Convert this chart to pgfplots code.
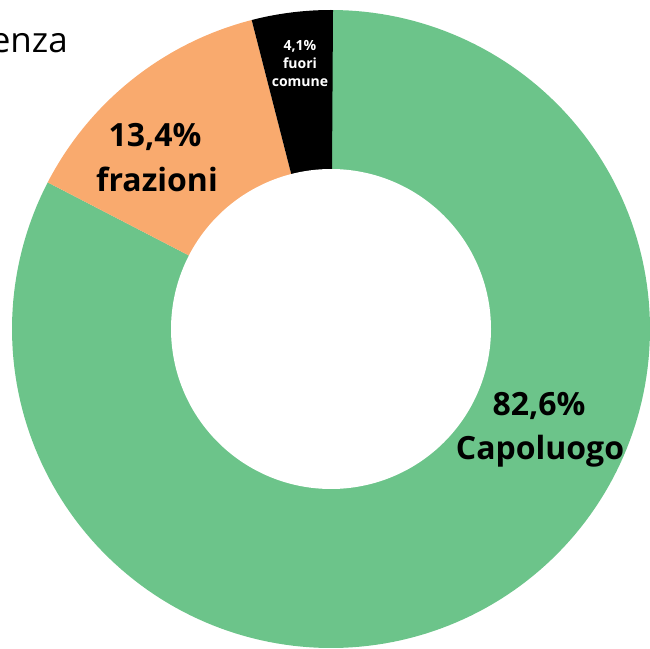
\documentclass[border=0pt]{standalone}
\usepackage{pgfplots}
\usepackage{pgfplotstable}
\pgfplotsset{compat=1.18}
\usepackage{fontspec}
\setmainfont{Open Sans}
\definecolor{capo}{RGB}{108,196,138}
\definecolor{fraz}{RGB}{249,170,110}

\pgfplotstableread{
label value
Capoluogo 82.6
frazioni 13.4
fuori 4.1
}\datatable

\begin{document}%
\begin{tikzpicture}
\pgfplotstablegetelem{0}{value}\of\datatable \let\vA\pgfplotsretval
\pgfplotstablegetelem{1}{value}\of\datatable \let\vB\pgfplotsretval
\pgfplotstablegetelem{2}{value}\of\datatable \let\vC\pgfplotsretval
\pgfmathsetmacro\aA{90-3.6*\vA}
\pgfmathsetmacro\aB{\aA-3.6*\vB}
\pgfmathsetmacro\aC{\aB-3.6*\vC}
\begin{axis}[hide axis, scale only axis, width=650bp, height=648bp,
  xmin=-331, xmax=319, ymin=-319, ymax=329, clip=true]
\coordinate (sw) at (rel axis cs:0,0);
\coordinate (ne) at (rel axis cs:1,1);
\addplot[fill=capo, draw=none, domain=\aA:90, samples=200] ({319*cos(x)},{319*sin(x)}) -- (0,0) -- cycle;
\addplot[fill=fraz, draw=none, domain=\aB:\aA, samples=60] ({319*cos(x)},{319*sin(x)}) -- (0,0) -- cycle;
\addplot[fill=black, draw=none, domain=\aC:\aB, samples=30] ({319*cos(x)},{319*sin(x)}) -- (0,0) -- cycle;
\addplot[fill=white, draw=none, domain=0:360, samples=200] ({160*cos(x)},{160*sin(x)}) -- cycle;
\node[anchor=base, font=\fontsize{32bp}{32bp}\selectfont\bfseries] at (208,-86) {82,6\%};
\node[anchor=base, font=\fontsize{32bp}{32bp}\selectfont\bfseries] at (209,-130) {Capoluogo};
\node[anchor=base, font=\fontsize{32bp}{32bp}\selectfont\bfseries] at (-176,182) {13,4\%};
\node[anchor=base, font=\fontsize{32bp}{32bp}\selectfont\bfseries] at (-174,137) {frazioni};
\node[anchor=base, text=white, font=\fontsize{14bp}{14bp}\selectfont\bfseries] at (-31,278) {4,1\%};
\node[anchor=base, text=white, font=\fontsize{14bp}{14bp}\selectfont\bfseries] at (-31,260) {fuori};
\node[anchor=base, text=white, font=\fontsize{14bp}{14bp}\selectfont\bfseries] at (-31,242) {comune};
\node[anchor=base east, inner xsep=0pt, font=\fontsize{35bp}{35bp}\selectfont] at (-263,276) {enza};
\end{axis}
\pgfresetboundingbox
\useasboundingbox (sw) rectangle (ne);
\end{tikzpicture}%
\end{document}
